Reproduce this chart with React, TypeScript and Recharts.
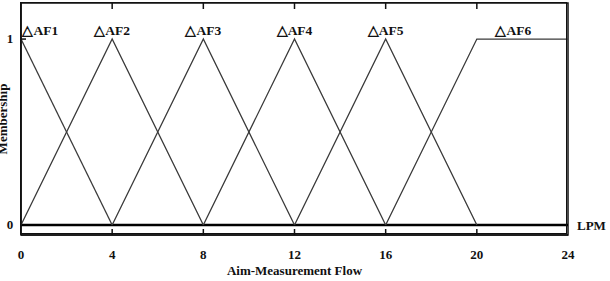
import React from 'react';
import {
  LineChart,
  Line,
  XAxis,
  YAxis,
  ReferenceLine,
  ReferenceDot,
  ReferenceArea,
} from 'recharts';

// Aim-measurement flow ticks (LPM) and membership ticks
const flowTicks = [0, 4, 8, 12, 16, 20, 24];
const memberTicks = [0, 1];

// fuzzy sets, breakpoints as (flow, membership)
const af1 = [
  { x: 0, m: 1 },
  { x: 4, m: 0 },
];
const af2 = [
  { x: 0, m: 0 },
  { x: 4, m: 1 },
  { x: 8, m: 0 },
];
const af3 = [
  { x: 4, m: 0 },
  { x: 8, m: 1 },
  { x: 12, m: 0 },
];
const af4 = [
  { x: 8, m: 0 },
  { x: 12, m: 1 },
  { x: 16, m: 0 },
];
const af5 = [
  { x: 12, m: 0 },
  { x: 16, m: 1 },
  { x: 20, m: 0 },
];
const af6 = [
  { x: 16, m: 0 },
  { x: 20, m: 1 },
  { x: 24, m: 1 },
];
const fuzzySets = [af1, af2, af3, af4, af5, af6];

const setNames = ['△AF1', '△AF2', '△AF3', '△AF4', '△AF5', '△AF6'];
const setLabelAt = [0.85, 4, 8, 12, 16, 21.6];

const SERIF = '"Liberation Serif", "Times New Roman", serif';
const INK = '#111';
const PLOT_TOP_GAP = 232; // distance from x axis up to the top frame

function FlowTick(props: any) {
  const { x, y, payload } = props;
  const v = Number(payload.value);
  return (
    <g>
      <line
        x1={x}
        x2={x}
        y1={y - 6}
        y2={y}
        stroke={INK}
        strokeWidth={1.5}
        strokeOpacity={v > 0 && v < 24 ? 1 : 0}
      />
      <line
        x1={x}
        x2={x}
        y1={y - PLOT_TOP_GAP}
        y2={y - PLOT_TOP_GAP + 6}
        stroke={INK}
        strokeWidth={1.5}
        strokeOpacity={v > 0 && v < 24 ? 1 : 0}
      />
      <text
        x={x}
        y={y + 24}
        textAnchor="middle"
        fontFamily={SERIF}
        fontWeight="bold"
        fontSize={13}
        fill={INK}
      >
        {v}
      </text>
    </g>
  );
}

function MemberTick(props: any) {
  const { x, y, payload } = props;
  return (
    <g>
      <line
        x1={x}
        x2={x + 5}
        y1={y}
        y2={y}
        stroke={INK}
        strokeWidth={1.5}
        strokeOpacity={payload.value === 1 ? 1 : 0}
      />
      <text
        x={x - 11}
        y={y + 4}
        textAnchor="middle"
        fontFamily={SERIF}
        fontWeight="bold"
        fontSize={13}
        fill={INK}
      >
        {payload.value}
      </text>
    </g>
  );
}

export default function App() {
  return (
    <div style={{ position: 'absolute', left: 0, top: 0, width: 610, height: 281, background: '#fff' }}>
      <LineChart width={610} height={281} margin={{ top: 3, right: 42, bottom: 0, left: 0 }}>
        <XAxis
          type="number"
          dataKey="x"
          domain={[0, 24]}
          ticks={flowTicks}
          height={46}
          tickSize={0}
          tickMargin={0}
          tick={FlowTick}
          stroke={INK}
          strokeWidth={1.5}
          label={{
            value: 'Aim-Measurement Flow',
            position: 'insideBottom',
            offset: 6,
            style: { fontFamily: SERIF, fontWeight: 'bold', fontSize: 13, fill: INK },
          }}
        />
        <YAxis
          type="number"
          domain={[-0.054, 1.194]}
          allowDataOverflow
          ticks={memberTicks}
          width={21}
          tickSize={0}
          tickMargin={0}
          tick={MemberTick}
          stroke={INK}
          strokeWidth={1.5}
          label={{
            value: 'Membership',
            angle: -90,
            position: 'insideLeft',
            offset: 2,
            style: {
              fontFamily: SERIF,
              fontWeight: 'bold',
              fontSize: 13,
              fill: INK,
              textAnchor: 'middle',
            },
          }}
        />
        {/* plot frame */}
        <ReferenceArea
          x1={0}
          x2={24}
          y1={-0.054}
          y2={1.194}
          stroke={INK}
          strokeWidth={1.5}
          fill="red"
          fillOpacity={0}
          ifOverflow="visible"
        />
        <ReferenceLine
          y={0}
          stroke="#000"
          strokeWidth={2.5}
          label={{
            value: 'LPM',
            position: 'right',
            offset: 9,
            style: { fontFamily: SERIF, fontWeight: 'bold', fontSize: 13, fill: INK },
          }}
        />
        {fuzzySets.map((d, i) => (
          <Line
            key={setNames[i]}
            data={d}
            dataKey="m"
            type="linear"
            stroke="#3a3a3a"
            strokeWidth={1.3}
            dot={false}
            activeDot={false}
            isAnimationActive={false}
          />
        ))}
        {setNames.map((name, i) => (
          <ReferenceDot
            key={name}
            x={setLabelAt[i]}
            y={1}
            r={0}
            stroke="none"
            fill="none"
            label={{
              value: name,
              position: 'top',
              offset: 4,
              style: { fontFamily: SERIF, fontWeight: 'bold', fontSize: 13.5, fill: INK },
            }}
          />
        ))}
      </LineChart>
      {/* frame drawn as an overlay in case the reference area is not painted */}
      <div
        style={{
          position: 'absolute',
          left: 20,
          top: 2,
          width: 547,
          height: 232,
          border: '1.5px solid #111',
          boxSizing: 'border-box',
          pointerEvents: 'none',
        }}
      />
    </div>
  );
}
